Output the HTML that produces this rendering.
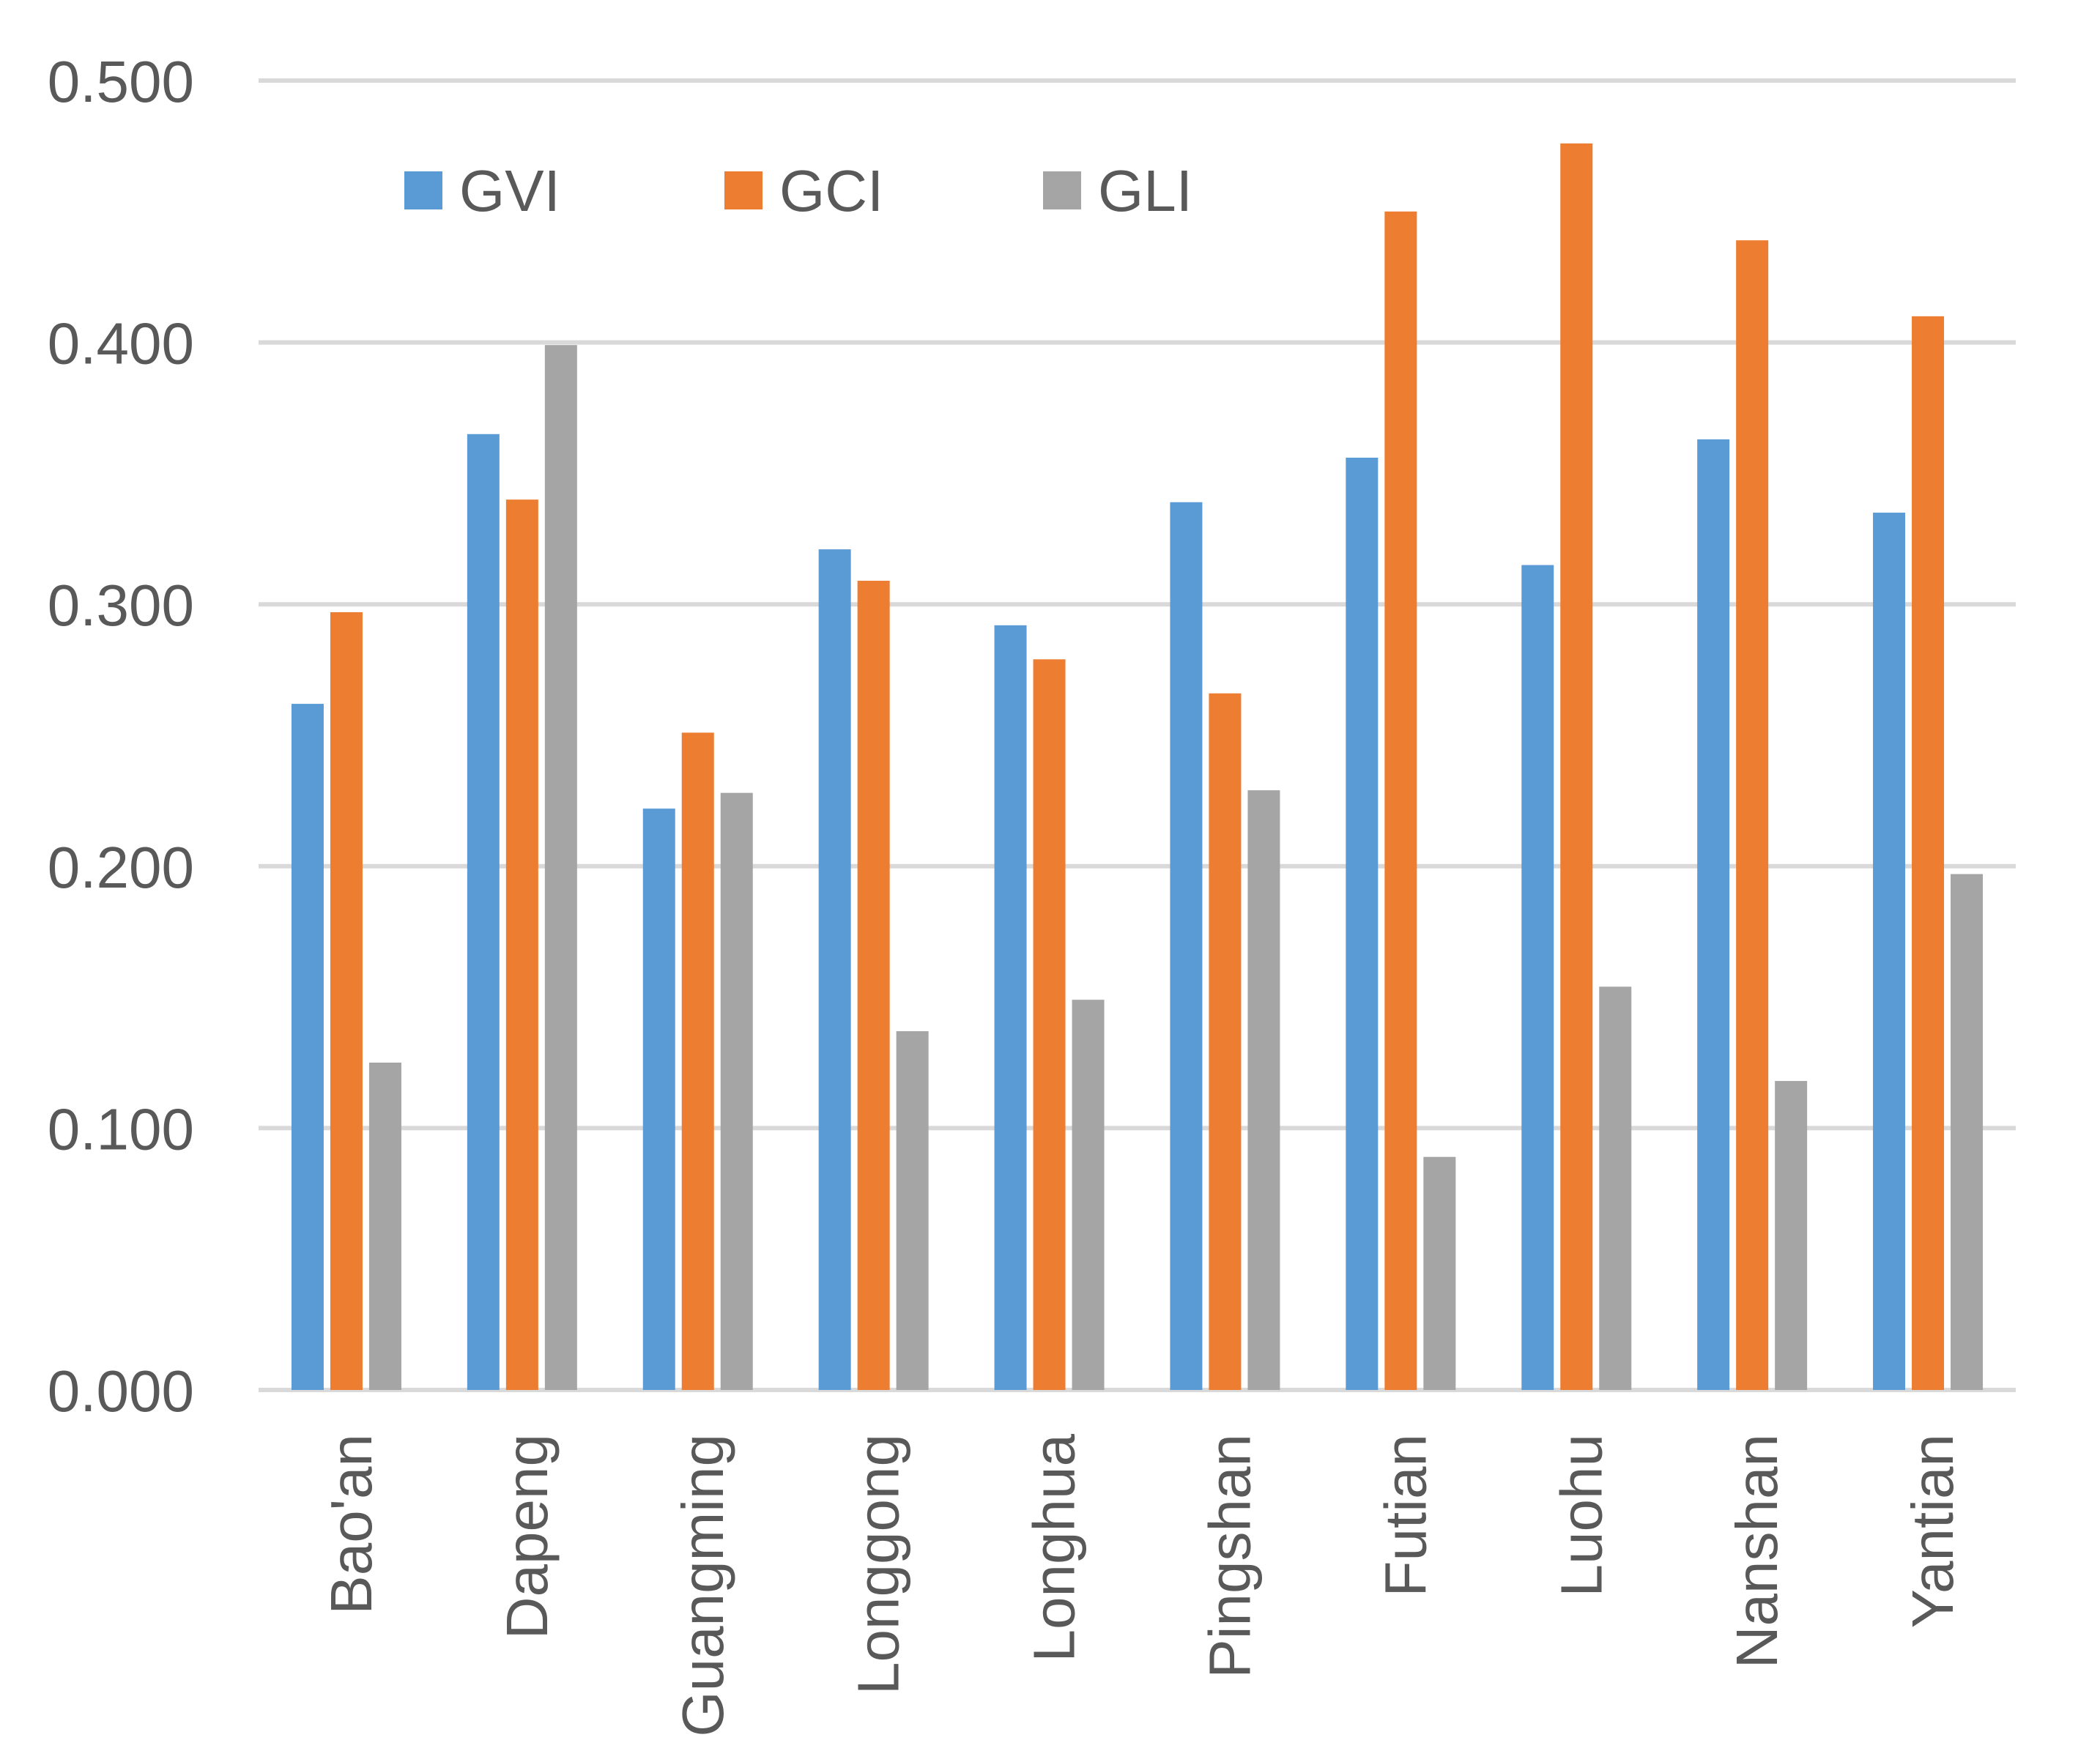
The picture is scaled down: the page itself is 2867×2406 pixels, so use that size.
<!DOCTYPE html>
<html><head><meta charset="utf-8"><style>
html,body{margin:0;padding:0;background:#fff;}
svg{display:block;font-family:"Liberation Sans",sans-serif;}
</style></head><body>
<svg id="chart" width="2867" height="2406" viewBox="0 0 2867 2406">
<g id="grid"></g>
<g id="yticks"></g>
<g id="bars"></g>
<g id="xlabels"></g>
<g id="legend"></g>
</svg>
<script>
const categories=["Bao'an","Dapeng","Guangming","Longgong","Longhua","Pingshan","Futian","Luohu","Nanshan","Yantian"];
const gvi=[0.262,0.365,0.222,0.321,0.292,0.339,0.356,0.315,0.363,0.335];
const gci=[0.297,0.340,0.251,0.309,0.279,0.266,0.450,0.476,0.439,0.410];
const gli=[0.125,0.399,0.228,0.137,0.149,0.229,0.089,0.154,0.118,0.197];
const yTicks=[0,0.1,0.2,0.3,0.4,0.5];
const seriesNames=["GVI","GCI","GLI"];
const NS="http://www.w3.org/2000/svg";
const L=353,R=2752,T=110,B=1898,maxV=0.5;
const colors=["#5B9BD5","#ED7D31","#A5A5A5"];
function y(v){return B-(v/maxV)*(B-T);}
const bw=(R-L)/categories.length;
function mk(tag,attrs,parent){const e=document.createElementNS(NS,tag);for(const k in attrs)e.setAttribute(k,attrs[k]);parent.appendChild(e);return e;}
const grid=document.getElementById('grid'),yt=document.getElementById('yticks');
yTicks.forEach(v=>{
  const l=mk('line',{x1:L,x2:R,y1:y(v),y2:y(v),stroke:'#D9D9D9','stroke-width':6},grid);
  
  
  const t=mk('text',{x:265,y:y(v)+29,'text-anchor':'end','font-size':80,fill:'#595959'},yt);
  
  
  t.textContent=v.toFixed(3);
});
const bars=document.getElementById('bars'),xl=document.getElementById('xlabels');
const series=[gvi,gci,gli];
const barW=44,gap=9;
categories.forEach((c,i)=>{
  const cx=L+bw*(i+0.5);
  series.forEach((s,j)=>{
    const x=cx-barW*1.5-gap+j*(barW+gap);
    const r=mk('rect',{x:x,y:y(s[i]),width:barW,height:B-y(s[i]),fill:colors[j]},bars);
    
    
  });
  const t=mk('text',{transform:`translate(${cx+34},1958) rotate(-90)`,'text-anchor':'end','font-size':80,fill:'#595959'},xl);
  
  
  t.textContent=c;
});
const lg=document.getElementById('legend');
const lx=[552,989,1424];
seriesNames.forEach((n,j)=>{
  const r=mk('rect',{x:lx[j],y:234,width:52,height:52,fill:colors[j]},lg);
  
  
  const t=mk('text',{x:lx[j]+75,y:288,'font-size':80,fill:'#595959'},lg);
  
  
  t.textContent=n;
});
</script>
</body></html>
